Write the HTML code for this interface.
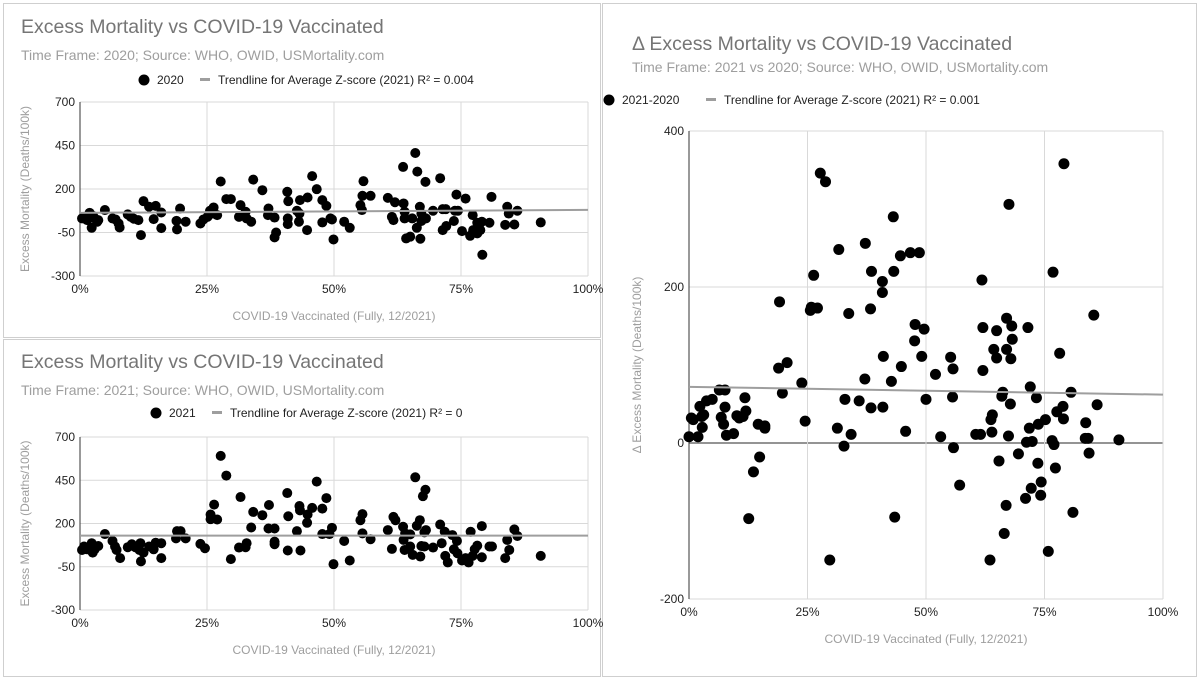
<!DOCTYPE html>
<html><head><meta charset="utf-8"><style>
html,body{margin:0;padding:0;background:#fff;}
svg{display:block;font-family:"Liberation Sans",Arial,sans-serif;}
</style></head><body>
<svg id="root" width="1200" height="680" viewBox="0 0 1200 680">
<rect x="0" y="0" width="1200" height="680" fill="#fff"/>
<rect x="3.5" y="3.5" width="597" height="334" fill="none" stroke="#cfcfcf"/>
<rect x="3.5" y="339.5" width="597" height="337" fill="none" stroke="#cfcfcf"/>
<rect x="602.5" y="3.5" width="594" height="673" fill="none" stroke="#cfcfcf"/>
</svg>
<script>
const xTicks = [0, 25, 50, 75, 100];
const xTickLabels = ["0%", "25%", "50%", "75%", "100%"];
const yTicksLeft = [700, 450, 200, -50, -300];
const yTicksRight = [400, 200, 0, -200];

const x2020 = [0.4,0.8,1.4,1.9,2.3,2.9,3.4,3.6,2.6,4.9,6.4,7.0,7.6,7.8,9.4,10.0,10.6,11.5,12.0,12.5,13.6,14.5,14.9,16.0,16.0,19.0,19.1,19.7,20.8,23.7,24.3,25.1,25.6,26.3,26.1,27.0,27.7,28.8,29.7,31.6,31.3,32.6,32.8,33.7,34.1,35.9,37.1,37.0,38.3,38.3,38.6,40.8,41.0,40.9,40.9,42.7,43.2,43.1,43.3,44.7,44.8,45.7,46.6,47.7,47.7,48.5,49.3,49.6,49.9,52.0,53.1,55.2,55.5,55.8,55.6,57.2,60.6,61.4,61.7,62.0,63.6,63.7,63.9,63.9,64.2,65.0,65.4,66.0,66.4,66.9,67.2,67.0,66.3,67.2,68.0,68.1,69.5,70.9,71.4,71.4,72.0,72.1,73.6,73.8,74.1,74.4,75.2,75.9,76.8,77.3,77.4,78.2,78.2,79.1,78.8,79.2,80.6,81.0,83.7,84.1,84.4,85.5,86.1,90.7];
const y2020 = [31,40,21,63,-23,31,12,21,44,79,31,25,2,-21,54,40,29,21,-65,130,98,27,103,-25,65,17,-32,88,12,2,25,40,75,94,59,50,243,142,142,107,40,69,31,12,254,193,88,50,36,-78,-50,184,130,31,-2,75,59,12,136,-36,151,274,199,136,8,103,31,25,-90,12,-23,107,79,245,161,161,149,40,21,124,327,117,69,31,-84,-74,31,407,300,98,59,-86,-23,16,241,31,75,262,-36,84,84,-13,16,75,168,75,-42,145,-69,50,-36,6,-55,12,-36,-178,6,155,-6,98,59,-4,75,8];
const trend2020 = [63, 80];

const x2021 = [0.4,0.8,1.4,2.3,2.5,2.9,3.6,4.9,6.4,6.9,7.2,7.9,9.4,10.2,10.9,11.7,12.0,11.9,12.5,13.6,14.5,14.9,16.0,16.0,18.9,19.1,19.8,20.8,23.7,24.6,25.7,25.7,26.4,27.0,27.7,28.8,29.7,31.3,31.6,32.6,32.8,33.7,34.1,35.9,37.1,37.2,38.3,38.3,38.3,40.8,41.0,40.9,42.7,43.2,43.3,43.4,44.7,44.8,45.7,46.6,47.7,47.7,48.5,49.1,49.6,49.9,52.0,53.1,55.2,55.6,55.6,57.2,60.6,61.4,61.7,62.1,63.6,63.7,63.9,64.0,65.0,65.0,65.5,66.0,66.3,66.9,67.2,67.0,67.5,68.0,67.8,68.1,67.8,69.5,70.9,71.2,71.8,71.9,72.4,73.3,73.6,74.2,74.3,75.2,75.9,76.9,76.5,77.3,77.7,78.2,79.1,79.1,80.6,81.1,83.7,84.1,84.5,85.5,86.1,90.7];
const y2021 = [47,67,51,86,32,51,70,139,99,67,47,0,63,80,63,47,-19,86,32,67,51,89,0,86,114,156,156,114,82,57,252,225,309,223,591,477,-6,61,353,63,86,177,267,248,171,307,171,95,80,376,242,44,156,301,276,44,204,252,290,442,286,139,347,139,175,-35,99,-14,219,254,143,109,162,53,238,219,181,105,47,143,137,67,19,467,187,219,70,9,358,395,149,162,67,61,194,86,152,13,-25,133,51,99,28,-14,0,152,-25,13,51,72,185,5,67,67,0,105,47,166,128,13];
const trend2021 = [130, 130];

const xDelta = [0,0.5,0.9,1.9,2.3,2.7,2.8,3.1,3.7,4.9,6.4,7.6,6.8,7.3,7.6,7.9,9.4,10.1,10.6,11.4,11.8,12.0,12.6,13.6,14.6,14.9,16.0,16.0,18.9,19.1,19.7,20.7,23.8,24.5,25.6,25.8,26.3,27.1,27.7,28.8,31.3,31.6,32.7,32.9,33.7,34.2,35.9,29.7,37.1,37.2,38.3,38.4,38.5,40.8,40.8,40.9,41.0,42.7,43.1,43.2,43.4,44.6,44.8,45.7,46.7,47.7,47.6,48.6,49.1,49.6,50.0,52.0,53.1,55.2,55.6,55.7,55.8,57.1,60.5,61.5,61.8,62.0,62.0,63.5,63.7,63.9,64.0,64.3,64.9,64.9,65.4,66.0,66.2,66.5,66.9,67.0,67.0,67.4,67.5,67.8,67.9,68.1,68.2,69.5,71.0,71.2,71.5,71.8,72.0,72.2,72.4,73.3,73.6,73.7,74.2,74.3,75.2,75.8,76.6,76.8,77.0,77.3,77.6,78.2,78.9,79.0,79.1,80.6,81.0,83.7,83.6,84.2,84.4,85.4,86.1,90.7];
const yDelta = [8,32,30,8,47,34,20,36,54,56,68,68,33,24,46,10,12,35,32,34,58,41,-97,-37,24,-18,22,19,96,181,64,103,77,28,170,174,215,173,346,335,19,248,-4,56,166,11,54,-150,82,256,172,45,220,207,193,46,111,79,290,220,-95,240,98,15,244,152,131,244,111,146,56,88,8,110,59,95,-6,-54,11,11,209,148,93,-150,30,14,36,120,109,144,-23,60,65,-116,-80,160,120,9,306,50,108,150,133,-14,-71,1,148,19,72,-58,2,58,-26,24,-67,-50,30,-139,3,219,-2,-32,40,115,47,31,358,65,-89,26,6,6,-13,164,49,4];
const trendDelta = [72, 62];

const NS = "http://www.w3.org/2000/svg";
const root = document.getElementById("root");
function mk(tag, attrs, parent, text) {
  const e = document.createElementNS(NS, tag);
  for (const k in attrs) e.setAttribute(k, attrs[k]);
  if (text !== undefined) e.textContent = text;
  (parent || root).appendChild(e);
  return e;
}

function drawChart(cfg) {
  const g = mk("g", {});
  
  
  const sx = v => cfg.x0 + (v - 0) / 100 * (cfg.x1 - cfg.x0);
  const sy = v => cfg.y0 + (cfg.yMax - v) / (cfg.yMax - cfg.yMin) * (cfg.y1 - cfg.y0);

  const t = mk("text", {x: cfg.tx, y: cfg.ty, "font-size": 19.5, fill: "#757575"}, g, cfg.title);
  
  
  const st = mk("text", {x: cfg.tx, y: cfg.ty + cfg.sub, "font-size": 14, fill: "#9e9e9e"}, g, cfg.subtitle);
  
  

  const lg = mk("g", {}, g);
  
  
  const ld = mk("circle", {cx: cfg.lx, cy: cfg.ly - 4, r: 5.5, fill: "#000"}, lg);
  
  
  const lt1 = mk("text", {x: cfg.lx + 13, y: cfg.ly, "font-size": 12, fill: "#222"}, lg, cfg.series);
  
  
  const ll = mk("rect", {x: cfg.lx2, y: cfg.ly - 6, width: 10, height: 3, fill: "#9e9e9e"}, lg);
  
  
  const lt2 = mk("text", {x: cfg.lx2 + 18, y: cfg.ly, "font-size": 12, fill: "#222"}, lg, cfg.trendLabel);
  
  

  cfg.yTicks.forEach(v => {
    const gl = mk("line", {x1: cfg.x0, x2: cfg.x1, y1: sy(v), y2: sy(v), stroke: (v === 0 && cfg.zeroDark) ? "#555" : "#d9d9d9", "stroke-width": (v === 0 && cfg.zeroDark) ? 1.2 : 1}, g);
    
    
    const tl = mk("text", {x: cfg.x0 - 5, y: sy(v) + 4, "font-size": 12, fill: "#222", "text-anchor": "end"}, g, String(v));
    
    
  });
  xTicks.forEach((v, i) => {
    if (v > 0) {
      const gl = mk("line", {x1: sx(v), x2: sx(v), y1: cfg.y0, y2: cfg.y1, stroke: "#d9d9d9"}, g);
      
      
    }
    const tl = mk("text", {x: sx(v), y: cfg.y1 + 17, "font-size": 12, fill: "#222", "text-anchor": "middle"}, g, xTickLabels[i]);
    
    
  });
  const ax = mk("line", {x1: cfg.x0, x2: cfg.x0, y1: cfg.y0, y2: cfg.y1, stroke: "#333"}, g);
  
  

  const xt = mk("text", {x: (cfg.x0 + cfg.x1) / 2, y: cfg.y1 + 44, "font-size": 12, fill: "#9e9e9e", "text-anchor": "middle"}, g, "COVID-19 Vaccinated (Fully, 12/2021)");
  
  
  const ymid = (cfg.y0 + cfg.y1) / 2;
  const yt = mk("text", {x: cfg.ytx, y: ymid, "font-size": 12, fill: "#9e9e9e", "text-anchor": "middle", transform: "rotate(-90 " + cfg.ytx + " " + ymid + ")"}, g, cfg.yTitle);
  
  

  const pts = mk("g", {}, g);
  
  
  cfg.xs.forEach((xv, i) => {
    const c = mk("circle", {cx: sx(xv), cy: sy(cfg.ys[i]), r: cfg.r, fill: "#000"}, pts);
    
    
  });
  const tr = mk("line", {x1: sx(0), x2: sx(100), y1: sy(cfg.trend[0]), y2: sy(cfg.trend[1]), stroke: "#9e9e9e", "stroke-width": 2}, g);
  
  
}

drawChart({name: "chart-2020", title: "Excess Mortality vs COVID-19 Vaccinated", subtitle: "Time Frame: 2020; Source: WHO, OWID, USMortality.com",
  series: "2020", trendLabel: "Trendline for Average Z-score (2021) R² = 0.004", tx: 21, ty: 33, sub: 27, lx: 144, lx2: 200, ly: 84,
  x0: 80, x1: 588, y0: 102, y1: 276, yMax: 700, yMin: -300, yTicks: yTicksLeft, ytx: 29, yTitle: "Excess Mortality (Deaths/100k)",
  xs: x2020, ys: y2020, trend: trend2020, r: 5});
drawChart({name: "chart-2021", title: "Excess Mortality vs COVID-19 Vaccinated", subtitle: "Time Frame: 2021; Source: WHO, OWID, USMortality.com",
  series: "2021", trendLabel: "Trendline for Average Z-score (2021) R² = 0", tx: 21, ty: 368, sub: 27, lx: 156, lx2: 212, ly: 417,
  x0: 80, x1: 588, y0: 437, y1: 610, yMax: 700, yMin: -300, yTicks: yTicksLeft, ytx: 29, yTitle: "Excess Mortality (Deaths/100k)",
  xs: x2021, ys: y2021, trend: trend2021, r: 5});
drawChart({name: "chart-delta", title: "Δ Excess Mortality vs COVID-19 Vaccinated", subtitle: "Time Frame: 2021 vs 2020; Source: WHO, OWID, USMortality.com",
  series: "2021-2020", trendLabel: "Trendline for Average Z-score (2021) R² = 0.001", tx: 632, ty: 50, sub: 22, lx: 609, lx2: 706, ly: 104,
  x0: 689, x1: 1163, y0: 131, y1: 599, yMax: 400, yMin: -200, yTicks: yTicksRight, ytx: 641, yTitle: "Δ Excess Mortality (Deaths/100k)",
  xs: xDelta, ys: yDelta, trend: trendDelta, r: 5.5, zeroDark: true});
</script>
</body></html>
